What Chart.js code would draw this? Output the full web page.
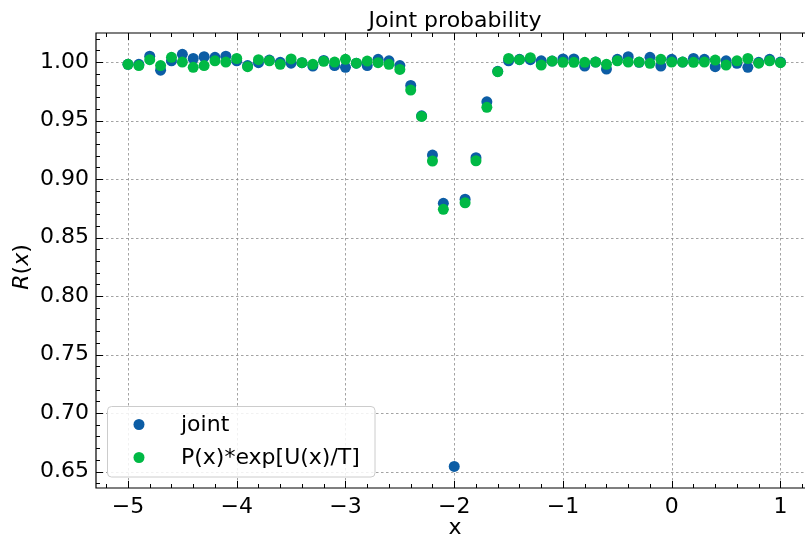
<!DOCTYPE html>
<html>
<head>
<meta charset="utf-8">
<script src="https://cdn.jsdelivr.net/npm/chart.js@4.4.1/dist/chart.umd.min.js"></script>
<style>
  html, body { margin: 0; padding: 0; background: #fff; }
  canvas { display: block; }
</style>
</head>
<body>
<canvas id="chart" width="805" height="537"></canvas>
<script>
// Datos
const xValues = [
  -5.0, -4.9, -4.8, -4.7, -4.6, -4.5, -4.4, -4.3, -4.2, -4.1,
  -4.0, -3.9, -3.8, -3.7, -3.6, -3.5, -3.4, -3.3, -3.2, -3.1,
  -3.0, -2.9, -2.8, -2.7, -2.6, -2.5, -2.4, -2.3, -2.2, -2.1,
  -2.0, -1.9, -1.8, -1.7, -1.6, -1.5, -1.4, -1.3, -1.2, -1.1,
  -1.0, -0.9, -0.8, -0.7, -0.6, -0.5, -0.4, -0.3, -0.2, -0.1,
  0.0, 0.1, 0.2, 0.3, 0.4, 0.5, 0.6, 0.7, 0.8, 0.9, 1.0
];
const jointValues = [
  0.998, 0.998, 1.005, 0.993, 1.001, 1.0066, 1.003, 1.0045, 1.004, 1.005,
  1.001, 0.997, 0.9994, 1.0017, 0.9997, 0.999, 0.9994, 0.9966, 1.0014, 0.997,
  0.9955, 0.999, 0.997, 1.0023, 1.001, 0.997, 0.980, 0.954, 0.9205, 0.8792,
  0.6543, 0.8827, 0.9182, 0.966, 0.992, 1.001, 1.0023, 1.002, 1.001, 1.0008,
  1.0026, 1.0026, 0.9966, 1.000, 0.994, 1.0023, 1.0045, 0.9997, 1.004, 0.9966,
  1.0023, 1.000, 1.003, 1.0023, 0.996, 1.001, 0.9989, 0.9955, 0.9997, 1.0023, 1.000
];
const modelValues = [
  0.998, 0.997, 1.002, 0.997, 1.004, 1.000, 0.9955, 0.997, 1.001, 1.000,
  1.003, 0.996, 1.002, 1.001, 0.998, 1.0026, 0.9994, 0.998, 1.0006, 1.000,
  1.0023, 0.999, 1.0008, 0.9994, 0.998, 0.9937, 0.976, 0.9535, 0.9154, 0.8741,
  null, 0.8797, 0.9156, 0.9613, 0.9917, 1.003, 1.002, 1.0037, 0.9974, 1.0008,
  0.9997, 0.9997, 0.9997, 1.000, 0.998, 1.001, 1.000, 1.000, 0.9989, 1.0023,
  1.000, 1.000, 0.9997, 1.000, 1.0017, 0.9974, 1.001, 1.003, 0.999, 1.001, 0.9994
];
const seriesLabels = ['joint', 'P(x)*exp[U(x)/T]'];
const xTicks = [-5, -4, -3, -2, -1, 0, 1];
const yTicks = [0.65, 0.70, 0.75, 0.80, 0.85, 0.90, 0.95, 1.00];

const BLUE = '#0C5DA5';
const GREEN = '#00B945';
const FONT = 'DejaVu Sans';

function toPoints(values) {
  const pts = [];
  values.forEach((v, i) => {
    if (v !== null) pts.push({ x: xValues[i], y: v });
  });
  return pts;
}

// Marco, ticks internos, rejilla, leyenda y textos
// (la figura original esta recortada a la derecha: el marco sigue hasta el borde del canvas)
const framePlugin = {
  id: 'frame',
  beforeDatasetsDraw(chart) {
    const { ctx, chartArea: a, scales } = chart;
    const R = chart.width;
    ctx.save();
    ctx.strokeStyle = '#8c8c8c';
    ctx.lineWidth = 0.8;
    ctx.setLineDash([2.5, 2.5]);
    xTicks.forEach(v => {
      const px = Math.round(scales.x.getPixelForValue(v)) + 0.5;
      ctx.beginPath(); ctx.moveTo(px, a.top); ctx.lineTo(px, a.bottom); ctx.stroke();
    });
    yTicks.forEach(v => {
      const py = Math.round(scales.y.getPixelForValue(v)) + 0.5;
      ctx.beginPath(); ctx.moveTo(a.left, py); ctx.lineTo(R, py); ctx.stroke();
    });
    ctx.restore();
  },
  afterDatasetsDraw(chart) {
    const { ctx, chartArea: a, scales } = chart;
    const R = chart.width;
    ctx.save();
    ctx.strokeStyle = '#000';
    ctx.lineWidth = 1.2;
    ctx.setLineDash([]);
    // ejes
    ctx.beginPath();
    ctx.moveTo(R, a.top); ctx.lineTo(a.left, a.top);
    ctx.lineTo(a.left, a.bottom); ctx.lineTo(R, a.bottom);
    ctx.stroke();

    ctx.lineWidth = 1;
    const tick = (x1, y1, x2, y2) => { ctx.beginPath(); ctx.moveTo(x1, y1); ctx.lineTo(x2, y2); ctx.stroke(); };
    // ticks eje x
    for (let k = -27; k <= 7; k++) {
      const v = k / 5;
      const px = Math.round(scales.x.getPixelForValue(v)) + 0.5;
      if (px < a.left || px > R) continue;
      const len = (k % 5 === 0) ? 7 : 4;
      tick(px, a.bottom, px, a.bottom - len);
      tick(px, a.top, px, a.top + len);
    }
    // ticks eje y
    for (let k = 63; k <= 102; k++) {
      const v = k / 100;
      const py = Math.round(scales.y.getPixelForValue(v)) + 0.5;
      if (py < a.top || py > a.bottom) continue;
      const len = (k % 5 === 0) ? 7 : 4;
      tick(a.left, py, a.left + len, py);
    }

    // leyenda
    const lx = 107.5, ly = 406.5, lw = 267.5, lh = 70.5, r = 4;
    ctx.beginPath();
    ctx.moveTo(lx + r, ly);
    ctx.arcTo(lx + lw, ly, lx + lw, ly + lh, r);
    ctx.arcTo(lx + lw, ly + lh, lx, ly + lh, r);
    ctx.arcTo(lx, ly + lh, lx, ly, r);
    ctx.arcTo(lx, ly, lx + lw, ly, r);
    ctx.closePath();
    ctx.fillStyle = 'rgba(255,255,255,0.85)';
    ctx.fill();
    ctx.strokeStyle = '#cccccc';
    ctx.stroke();

    const colors = [BLUE, GREEN];
    const rows = [424.5, 457.5];
    ctx.font = '22px "' + FONT + '"';
    ctx.textBaseline = 'middle';
    ctx.textAlign = 'left';
    seriesLabels.forEach((lab, i) => {
      ctx.fillStyle = colors[i];
      ctx.beginPath(); ctx.arc(139, rows[i], 5.5, 0, Math.PI * 2); ctx.fill();
      ctx.fillStyle = '#000';
      ctx.fillText(lab, 181, rows[i] + 1);
    });
    ctx.restore();
  },
  afterDraw(chart) {
    const { ctx } = chart;
    ctx.save();
    ctx.fillStyle = '#000';
    ctx.textAlign = 'center';
    ctx.textBaseline = 'alphabetic';
    ctx.font = '22px "' + FONT + '"';
    ctx.fillText('Joint probability', 455, 27);
    ctx.fillText('x', 455, 534);

    // etiqueta eje y: R(x) con R y x en cursiva
    const parts = [['R', true], ['(', false], ['x', true], [')', false]];
    const fontOf = it => (it ? 'italic ' : '') + '22px "' + FONT + '"';
    let total = 0;
    parts.forEach(p => { ctx.font = fontOf(p[1]); total += ctx.measureText(p[0]).width; });
    ctx.translate(28, 267);
    ctx.rotate(-Math.PI / 2);
    ctx.textAlign = 'left';
    let cx = -total / 2;
    parts.forEach(p => {
      ctx.font = fontOf(p[1]);
      ctx.fillText(p[0], cx, 0);
      cx += ctx.measureText(p[0]).width;
    });
    ctx.restore();
  }
};

const ctx = document.getElementById('chart').getContext('2d');
window.jointChart = new Chart(ctx, {
  type: 'scatter',
  data: {
    datasets: [{
      label: seriesLabels[0],
      data: toPoints(jointValues),
      backgroundColor: BLUE,
      pointBackgroundColor: BLUE,
      pointRadius: 5.5,
      pointBorderWidth: 0,
      borderWidth: 0,
      order: 1
    }, {
      label: seriesLabels[1],
      data: toPoints(modelValues),
      backgroundColor: GREEN,
      pointBackgroundColor: GREEN,
      pointRadius: 5.5,
      pointBorderWidth: 0,
      borderWidth: 0,
      order: 0
    }]
  },
  options: {
    responsive: false,
    animation: false,
    events: [],
    layout: { padding: { top: 33, right: 0, left: 0, bottom: 0 } },
    plugins: {
      legend: { display: false },
      title: { display: false },
      tooltip: { enabled: false }
    },
    scales: {
      x: {
        type: 'linear',
        min: -5.294,
        max: 1.175,
        grid: { display: false, drawTicks: false },
        border: { display: false },
        afterBuildTicks: s => { s.ticks = xTicks.map(v => ({ value: v })); },
        afterFit: s => { s.height = 49; },
        ticks: {
          color: '#000',
          font: { family: FONT, size: 22 },
          padding: 6,
          maxRotation: 0,
          autoSkip: false,
          callback: v => (v < 0 ? '\u2212' + Math.abs(v) : String(v))
        }
      },
      y: {
        type: 'linear',
        min: 0.6359,
        max: 1.0248,
        grid: { display: false, drawTicks: false },
        border: { display: false },
        afterBuildTicks: s => { s.ticks = yTicks.map(v => ({ value: v })); },
        afterFit: s => { s.width = 96; },
        ticks: {
          color: '#000',
          font: { family: FONT, size: 22 },
          padding: 7,
          autoSkip: false,
          callback: v => Number(v).toFixed(2)
        }
      }
    }
  },
  plugins: [framePlugin]
});
</script>
</body>
</html>
